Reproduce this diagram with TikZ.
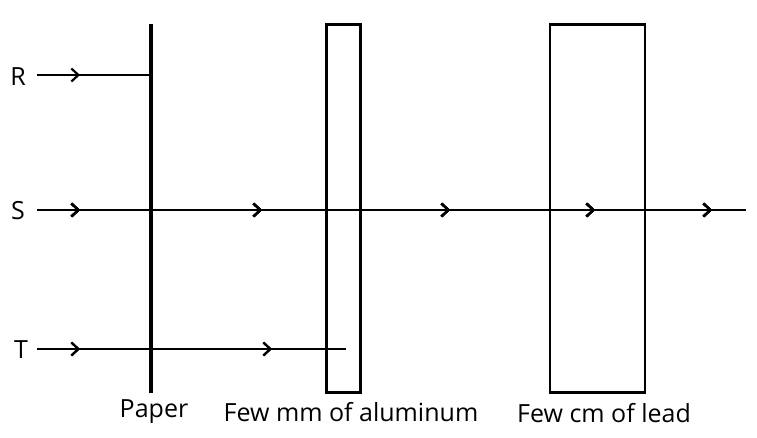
\documentclass[tikz,border=0pt]{standalone}
\usepackage{fontspec}
\setmainfont{Open Sans}
\usetikzlibrary{arrows.meta,decorations.markings}
\begin{document}
\begin{tikzpicture}[x=1pt,y=-1pt]
        \tikzset{ray/.style = {line width=2.4pt}}
        \tikzset{sheet/.style = {draw,line width=2.2pt}}
        \tikzset{tag/.style = {font=\fontsize{25}{28}\selectfont,inner sep=0pt}}
        \tikzset{tip/.style = {postaction={decorate},decoration={markings,mark=at position #1 with {\arrow{Straight Barb[length=7pt,width=13pt,line width=2.2pt]}}}}}
        \useasboundingbox (0,0) rectangle (757,437);

        \node[tag] (R) at (18,77) {R};
        \node[tag] (S) at (18,211) {S};
        \node[tag] (T) at (21,350) {T};

        \coordinate (Rs) at (37,75);
        \coordinate (Ss) at (37,210);
        \coordinate (Ts) at (37,349);
        \coordinate (Se) at (746,210);
        \coordinate (Te) at (346,349);

        \coordinate (pt) at (151,24);
        \coordinate (pb) at (151,393);
        \draw[line width=3.2pt] (pt) -- (pb);
        \node[sheet,minimum width=34pt,minimum height=368pt] (al) at (343.5,208.5) {};
        \node[sheet,minimum width=95pt,minimum height=368pt] (lead) at (597.5,208.5) {};

        \draw[ray,tip=43pt] (Rs) -- (pt |- Rs);
        \draw[ray,tip=43pt,tip=225pt,tip=413pt,tip=558pt,tip=675pt] (Ss) -- (Se);
        \draw[ray,tip=43pt,tip=235pt] (Ts) -- (Te);

        \node[tag] (paper) at (154,412) {Paper};
        \node[tag] (altext) at (351,412) {Few mm of aluminum};
        \node[tag] (leadtext) at (604,413) {Few cm of lead};
    \end{tikzpicture}
\end{document}
